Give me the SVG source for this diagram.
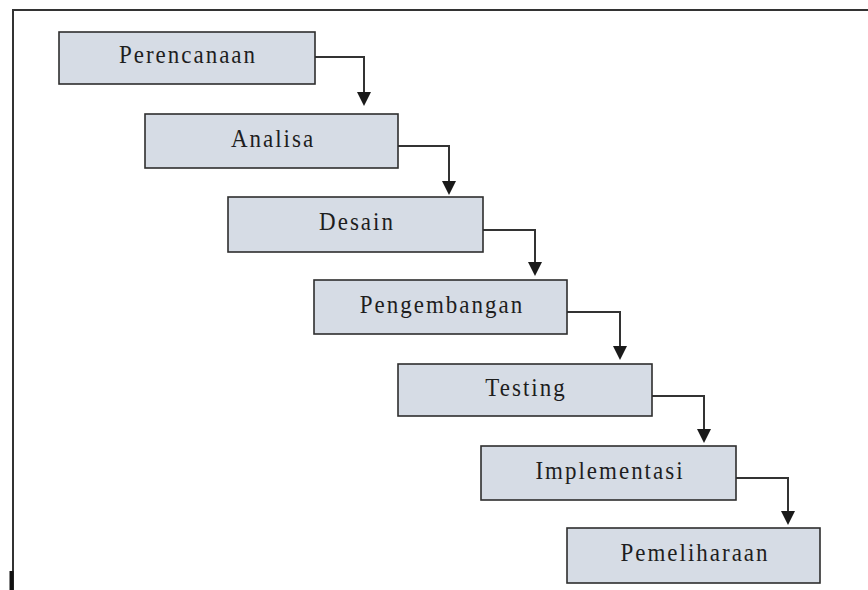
<svg xmlns="http://www.w3.org/2000/svg" width="868" height="590" viewBox="0 0 868 590">
<style>
.box{fill:#d6dce5;stroke:#2e2e2e;stroke-width:1.6}
.lbl{font-family:"Liberation Serif","Times New Roman",serif;font-size:23px;letter-spacing:2px;fill:#1e1e1e;text-anchor:middle}
.con{fill:none;stroke:#333;stroke-width:2}
.frame{fill:none;stroke:#333;stroke-width:2}
</style>
<defs>
<marker id="ah" markerUnits="userSpaceOnUse" markerWidth="16" markerHeight="16" viewBox="0 -8 16 16" refX="6" refY="0" orient="auto">
<path d="M0,-7 L14,0 L0,7 z" fill="#1a1a1a"/>
</marker>
</defs>
<rect width="868" height="590" fill="#fff"/>
<path class="frame" d="M13,590 V10 H868"/>
<rect x="9.5" y="571" width="4" height="19" fill="#111"/>
<g id="connectors">
<path class="con" d="M315,57 H364 V98" marker-end="url(#ah)"/>
<path class="con" d="M398,146 H449 V187" marker-end="url(#ah)"/>
<path class="con" d="M483,230 H535 V268" marker-end="url(#ah)"/>
<path class="con" d="M567,312 H620 V352" marker-end="url(#ah)"/>
<path class="con" d="M652,396 H704 V435" marker-end="url(#ah)"/>
<path class="con" d="M736,478 H788 V517" marker-end="url(#ah)"/>
</g>
<g id="n1"><rect class="box" x="59" y="32" width="256" height="52"/><text class="lbl" transform="translate(188,63) scale(1,1.1)">Perencanaan</text></g>
<g id="n2"><rect class="box" x="145" y="114" width="253" height="54"/><text class="lbl" transform="translate(273,147) scale(1,1.1)">Analisa</text></g>
<g id="n3"><rect class="box" x="228" y="197" width="255" height="55"/><text class="lbl" transform="translate(357,230) scale(1,1.1)">Desain</text></g>
<g id="n4"><rect class="box" x="314" y="280" width="253" height="54"/><text class="lbl" transform="translate(442,313) scale(1,1.1)">Pengembangan</text></g>
<g id="n5"><rect class="box" x="398" y="364" width="254" height="52"/><text class="lbl" transform="translate(526,396) scale(1,1.1)">Testing</text></g>
<g id="n6"><rect class="box" x="481" y="446" width="255" height="54"/><text class="lbl" transform="translate(610,479) scale(1,1.1)">Implementasi</text></g>
<g id="n7"><rect class="box" x="567" y="528" width="253" height="55"/><text class="lbl" transform="translate(695,561) scale(1,1.1)">Pemeliharaan</text></g>
</svg>
